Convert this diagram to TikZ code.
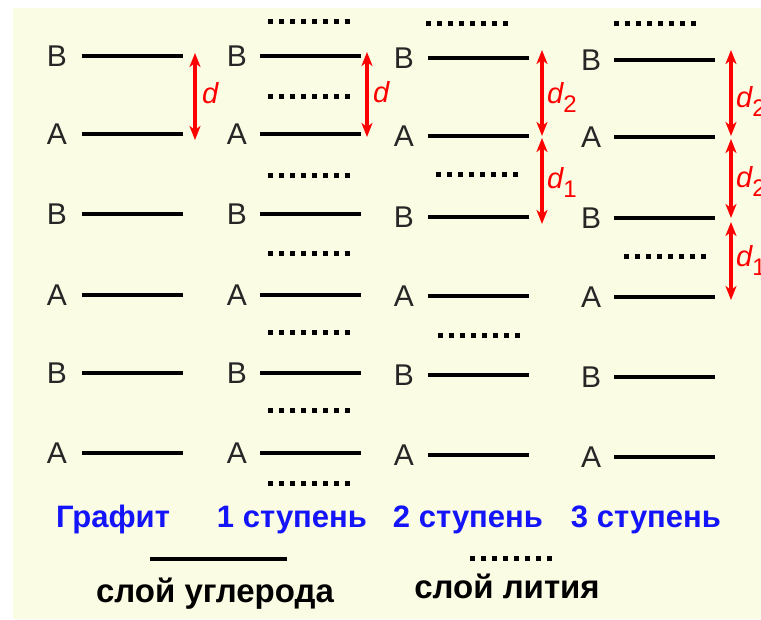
\documentclass[tikz,border=0pt]{standalone}
\usepackage{fontspec}
\setmainfont{Liberation Sans}
\usetikzlibrary{arrows.meta}
\definecolor{cream}{RGB}{250,252,228}
\definecolor{stageblue}{RGB}{20,20,250}
\begin{document}
\begin{tikzpicture}[x=1pt,y=-1pt,
  layer/.style={line width=4pt},
  lithium/.style={line width=5pt, dash pattern=on 5.4pt off 5.6pt},
  lett/.style={font=\fontsize{30}{30}\selectfont, text=black!85, inner sep=0pt},
  gap/.style={red, line width=3.5pt, {Stealth[length=14pt,width=11pt,inset=4pt]}-{Stealth[length=14pt,width=11pt,inset=4pt]}},
  dlab/.style={text=red, font=\fontsize{29}{29}\selectfont\itshape, anchor=base west, inner sep=0pt},
  stage/.style={text=stageblue, font=\fontsize{31}{31}\selectfont\bfseries, anchor=base, inner sep=0pt},
  legend/.style={font=\fontsize{33}{33}\selectfont\bfseries, anchor=base, inner sep=0pt}]
\useasboundingbox (0,0) rectangle (761,619);
\fill[cream] (13,8) rectangle (761,619);
\newcommand{\sub}[1]{\raisebox{-9pt}{\fontsize{24}{24}\selectfont\upshape #1}}
% column 1: graphite
\foreach \y/\l [count=\i] in {56/B,134/A,214/B,295/A,373/B,453/A}{
  \node[lett] (ga\i) at (57,\y) {\l};
  \coordinate (gl\i) at (82,\y); \coordinate (gr\i) at (183,\y);
  \draw[layer] (gl\i) -- (gr\i);
}
% column 2: stage 1
\foreach \y/\l [count=\i] in {56/B,134/A,214/B,295/A,373/B,453/A}{
  \node[lett] (sa\i) at (237,\y) {\l};
  \coordinate (sl\i) at (260,\y); \coordinate (sr\i) at (361,\y);
  \draw[layer] (sl\i) -- (sr\i);
}
\foreach \y [count=\i] in {21,96,175,253,332,410,483}{
  \coordinate (sd\i) at (268,\y); \coordinate (se\i) at (350,\y);
  \draw[lithium] (sd\i) -- (se\i);
}
% column 3: stage 2
\foreach \y/\l [count=\i] in {58/B,136/A,217/B,296/A,375/B,455/A}{
  \node[lett] (ta\i) at (404,\y) {\l};
  \coordinate (tl\i) at (428,\y); \coordinate (tr\i) at (529,\y);
  \draw[layer] (tl\i) -- (tr\i);
}
\foreach \x/\y [count=\i] in {426/23,436/174,438/335}{
  \coordinate (td\i) at (\x,\y); \coordinate (te\i) at (\x+82,\y);
  \draw[lithium] (td\i) -- (te\i);
}
% column 4: stage 3
\foreach \y/\l [count=\i] in {60/B,137/A,218/B,297/A,377/B,457/A}{
  \node[lett] (ua\i) at (591,\y) {\l};
  \coordinate (ul\i) at (614,\y); \coordinate (ur\i) at (715,\y);
  \draw[layer] (ul\i) -- (ur\i);
}
\foreach \x/\y [count=\i] in {614/23,624/256}{
  \coordinate (ud\i) at (\x,\y); \coordinate (ue\i) at (\x+82,\y);
  \draw[lithium] (ud\i) -- (ue\i);
}
% spacing arrows
\coordinate (a1t) at (195,53);  \coordinate (a1b) at (195,140);
\draw[gap] (a1t) -- (a1b);
\node[dlab] (l1) at (202,103) {d};
\coordinate (a2t) at (367,52);  \coordinate (a2b) at (367,137);
\draw[gap] (a2t) -- (a2b);
\node[dlab] (l2) at (373,102) {d};
\coordinate (a3t) at (542,50);  \coordinate (a3m) at (542,136);
\coordinate (a3n) at (542,138); \coordinate (a3b) at (542,224);
\draw[gap] (a3t) -- (a3m);
\draw[gap] (a3n) -- (a3b);
\node[dlab] (l3) at (547,103) {d\sub{2}};
\node[dlab] (l4) at (547,188) {d\sub{1}};
\coordinate (a4t) at (731,50);  \coordinate (a4m) at (731,136);
\coordinate (a4n) at (731,139); \coordinate (a4o) at (731,218);
\coordinate (a4p) at (731,222); \coordinate (a4b) at (731,300);
\draw[gap] (a4t) -- (a4m);
\draw[gap] (a4n) -- (a4o);
\draw[gap] (a4p) -- (a4b);
\node[dlab] (l5) at (736,107) {d\sub{2}};
\node[dlab] (l6) at (736,187) {d\sub{2}};
\node[dlab] (l7) at (736,266) {d\sub{1}};
% stage labels
\node[stage] (n1) at (113,527) {Графит};
\node[stage] (n2) at (292,527) {1 ступень};
\node[stage] (n3) at (468,527) {2 ступень};
\node[stage] (n4) at (646,527) {3 ступень};
% legend
\coordinate (c1) at (150,559); \coordinate (c2) at (287,559);
\draw[layer] (c1) -- (c2);
\node[legend] (k1) at (215,602) {слой углерода};
\coordinate (d1) at (470,558); \coordinate (d2) at (552,558);
\draw[lithium] (d1) -- (d2);
\node[legend] (k2) at (507,598) {слой лития};
\end{tikzpicture}
\end{document}
